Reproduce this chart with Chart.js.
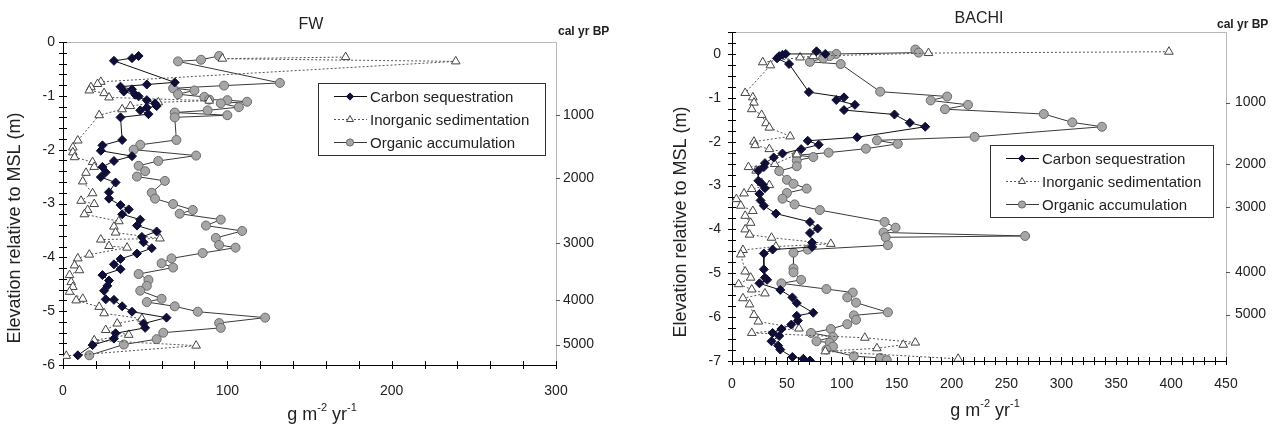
<!DOCTYPE html>
<html>
<head>
<meta charset="utf-8">
<script src="https://cdn.jsdelivr.net/npm/chart.js@4.4.1/dist/chart.umd.min.js"></script>
<style>
  html, body { margin: 0; padding: 0; background: #fff; }
  #wrap { position: relative; width: 1275px; height: 425px; overflow: hidden; }
  .panel { position: absolute; top: 0; height: 425px; }
</style>
</head>
<body>
<div id="wrap">
  <div class="panel" style="left:0;width:640px"><canvas id="fwChart"></canvas></div>
  <div class="panel" style="left:640px;width:635px"><canvas id="bachiChart"></canvas></div>
</div>
<script>
/* Accretion profiles, FW and BACHI cores
   points are [rate g m-2 yr-1, elevation m] in depth order */

const fwCarbon = [
  [46,-0.26],[42,-0.30],[31,-0.35],[68,-0.75],[51,-0.79],[35,-0.83],[42,-0.88],[37,-0.92],
  [44,-0.98],[46,-1.01],[51,-1.08],[56,-1.14],[57,-1.19],[51,-1.22],[47,-1.27],[52,-1.34],
  [35,-1.40],[36,-1.82],[24,-1.92],[23,-2.02],[42,-2.12],[31,-2.21],[24,-2.32],[26,-2.42],
  [23,-2.51],[32,-2.61],[28,-2.79],[28,-2.91],[35,-3.03],[40,-3.11],[36,-3.20],[47,-3.30],
  [45,-3.41],[57,-3.52],[48,-3.62],[49,-3.72],[54,-3.83],[45,-3.93],[35,-4.03],[31,-4.13],
  [35,-4.22],[24,-4.33],[28,-4.43],[27,-4.53],[25,-4.62],[26,-4.78],[31,-4.79],[36,-4.91],
  [42,-5.01],[63,-5.12],[49,-5.23],[50,-5.31],[32,-5.41],[31,-5.51],[18,-5.63],[9,-5.82]
];
const fwInorganic = [
  [172,-0.28],[97,-0.31],[239,-0.36],[23,-0.74],[21,-0.78],[17,-0.84],[16,-0.90],[25,-0.95],
  [28,-1.03],[89,-1.09],[58,-1.12],[41,-1.19],[36,-1.25],[22,-1.36],[9,-1.83],[6,-1.96],
  [6,-2.05],[7,-2.14],[18,-2.23],[19,-2.32],[14,-2.43],[12,-2.59],[18,-2.81],[11,-2.95],
  [19,-3.01],[15,-3.12],[13,-3.20],[34,-3.33],[31,-3.43],[32,-3.54],[59,-3.65],[23,-3.67],
  [28,-3.79],[39,-3.82],[16,-3.95],[9,-4.02],[7,-4.15],[10,-4.24],[4,-4.33],[5,-4.46],
  [6,-4.55],[4,-4.64],[12,-4.77],[8,-4.80],[22,-4.92],[25,-5.04],[48,-5.14],[33,-5.23],
  [26,-5.35],[40,-5.44],[19,-5.54],[81,-5.64],[2,-5.83]
];
const fwOrganic = [
  [95,-0.26],[84,-0.33],[70,-0.36],[132,-0.76],[98,-0.81],[67,-0.86],[80,-0.90],[70,-0.97],
  [86,-1.02],[89,-1.07],[100,-1.08],[112,-1.11],[96,-1.14],[107,-1.21],[88,-1.27],[68,-1.31],
  [100,-1.36],[68,-1.40],[69,-1.82],[47,-1.91],[43,-2.00],[81,-2.11],[58,-2.21],[46,-2.30],
  [50,-2.40],[45,-2.50],[62,-2.58],[54,-2.80],[56,-2.91],[67,-3.01],[79,-3.12],[71,-3.19],
  [96,-3.30],[87,-3.41],[109,-3.51],[93,-3.64],[95,-3.77],[105,-3.82],[85,-3.92],[66,-4.02],
  [60,-4.11],[67,-4.19],[46,-4.31],[52,-4.42],[51,-4.53],[47,-4.62],[60,-4.77],[51,-4.83],
  [68,-4.91],[82,-5.01],[123,-5.12],[95,-5.22],[96,-5.31],[61,-5.40],[57,-5.52],[37,-5.62],
  [16,-5.82]
];

const bachiCarbon = [
  [77,0.06],[85,0.00],[49,0.00],[46,-0.02],[43,-0.05],[41,-0.10],[52,-0.23],[70,-0.87],
  [102,-0.99],[95,-1.05],[112,-1.16],[102,-1.28],[148,-1.38],[162,-1.57],[176,-1.66],[114,-1.90],
  [69,-1.98],[79,-2.07],[63,-2.17],[46,-2.27],[38,-2.36],[30,-2.49],[29,-2.58],[24,-2.66],
  [24,-2.89],[28,-2.98],[30,-3.06],[25,-3.19],[26,-3.34],[29,-3.46],[40,-3.64],[71,-3.83],
  [78,-3.98],[71,-4.08],[73,-4.30],[73,-4.40],[37,-4.46],[29,-4.55],[29,-4.91],[30,-5.10],
  [32,-5.15],[25,-5.23],[44,-5.38],[55,-5.55],[59,-5.68],[74,-5.90],[59,-5.97],[60,-6.08],
  [54,-6.17],[45,-6.27],[37,-6.36],[43,-6.43],[36,-6.55],[42,-6.65],[44,-6.74],[55,-6.91],
  [65,-6.95],[71,-6.99]
];
const bachiInorganic = [
  [398,0.05],[179,0.02],[74,-0.05],[62,-0.08],[28,-0.19],[35,-0.26],[12,-0.89],[19,-0.99],
  [20,-1.11],[18,-1.26],[27,-1.39],[31,-1.58],[34,-1.68],[53,-1.88],[20,-2.00],[21,-2.08],
  [34,-2.17],[59,-2.29],[39,-2.51],[15,-2.58],[22,-2.66],[27,-2.94],[34,-2.99],[18,-3.08],
  [11,-3.18],[4,-3.31],[8,-3.46],[19,-3.58],[12,-3.69],[17,-3.85],[12,-4.00],[16,-4.12],
  [36,-4.19],[90,-4.33],[40,-4.39],[10,-4.47],[8,-4.57],[12,-4.96],[17,-5.10],[6,-5.25],
  [18,-5.37],[30,-5.46],[10,-5.57],[16,-5.71],[20,-5.95],[24,-6.10],[61,-6.26],[18,-6.36],
  [121,-6.47],[167,-6.58],[156,-6.63],[132,-6.71],[85,-6.78],[206,-6.95]
];
const bachiOrganic = [
  [167,0.10],[170,0.03],[95,0.00],[89,-0.05],[83,-0.10],[71,-0.18],[99,-0.23],[135,-0.86],
  [196,-0.97],[181,-1.06],[215,-1.16],[194,-1.26],[284,-1.37],[310,-1.56],[337,-1.66],[221,-1.89],
  [132,-1.97],[151,-2.05],[122,-2.16],[88,-2.25],[59,-2.31],[74,-2.35],[59,-2.43],[59,-2.56],
  [43,-2.67],[50,-2.87],[56,-2.96],[68,-3.07],[50,-3.17],[46,-3.30],[57,-3.43],[80,-3.56],
  [139,-3.83],[149,-3.96],[138,-4.07],[267,-4.15],[140,-4.18],[142,-4.36],[69,-4.46],[56,-4.53],
  [56,-4.89],[56,-4.98],[63,-5.15],[45,-5.23],[86,-5.36],[110,-5.44],[105,-5.55],[113,-5.67],
  [142,-5.89],[111,-5.96],[113,-6.06],[105,-6.16],[90,-6.27],[72,-6.36],[92,-6.45],[77,-6.55],
  [89,-6.58],[92,-6.67],[86,-6.74],[111,-6.89],[135,-6.93],[141,-6.98]
];

// tick labels
const fwXLabels = [0, 100, 200, 300];
const fwYLabels = [0, -1, -2, -3, -4, -5, -6];
const bachiXLabels = [0, 50, 100, 150, 200, 250, 300, 350, 400, 450];
const bachiYLabels = [0, -1, -2, -3, -4, -5, -6, -7];

// cal yr BP markers on the right: elevation where each age falls
const ageLabels = ['1000', '2000', '3000', '4000', '5000'];
const fwAgeDepth = [-1.35, -2.53, -3.74, -4.79, -5.62];
const bachiAgeDepth = [-1.11, -2.51, -3.50, -4.98, -5.94];

const seriesNames = ['Carbon sequestration', 'Inorganic sedimentation', 'Organic accumulation'];

// ─── styles ──────────────────────────────────────────────
const FONT = '"Liberation Sans", Arial, sans-serif';
const INK = '#222';

const seriesStyle = [
  { borderColor: '#111', borderWidth: 1, borderDash: [], pointStyle: 'rectRot', pointRadius: 4.5,
    pointBackgroundColor: '#0e0e36', pointBorderColor: '#0e0e36', pointBorderWidth: 1 },
  { borderColor: '#555', borderWidth: 1, borderDash: [2, 2], pointStyle: 'triangle', pointRadius: 5,
    pointBackgroundColor: '#fff', pointBorderColor: '#444', pointBorderWidth: 1 },
  { borderColor: '#3a3a3a', borderWidth: 1, borderDash: [], pointStyle: 'circle', pointRadius: 4.5,
    pointBackgroundColor: '#a6a6a6', pointBorderColor: '#6a6a6a', pointBorderWidth: 1 },
];

function stepTicks(min, max, step) {
  const out = [];
  const n = Math.round((max - min) / step);
  for (let i = 0; i <= n; i++) out.push({ value: +(min + i * step).toFixed(4) });
  return out;
}
const isLabel = (list, v) => list.some(l => Math.abs(l - v) < 1e-6);

function legendMarker(ctx, s, x, y, r) {
  ctx.fillStyle = s.pointBackgroundColor;
  ctx.strokeStyle = s.pointBorderColor;
  ctx.lineWidth = 1;
  ctx.setLineDash([]);
  ctx.beginPath();
  if (s.pointStyle === 'rectRot') {
    ctx.moveTo(x, y - r); ctx.lineTo(x + r, y); ctx.lineTo(x, y + r); ctx.lineTo(x - r, y);
    ctx.closePath();
  } else if (s.pointStyle === 'triangle') {
    ctx.moveTo(x, y - r); ctx.lineTo(x + r * 0.87, y + r * 0.5); ctx.lineTo(x - r * 0.87, y + r * 0.5);
    ctx.closePath();
  } else {
    ctx.arc(x, y, r, 0, Math.PI * 2);
  }
  ctx.fill();
  ctx.stroke();
}

// frame, cross ticks, legend and the free text of each panel
const panelDecor = {
  id: 'panelDecor',
  beforeDatasetsDraw(chart, args, o) {
    const { ctx, chartArea: a, scales } = chart;
    ctx.save();
    ctx.lineWidth = 1;
    ctx.strokeStyle = '#b8b8b8';
    ctx.beginPath();
    ctx.moveTo(a.left, a.top + 0.5);
    ctx.lineTo(a.right + 0.5, a.top + 0.5);
    ctx.lineTo(a.right + 0.5, a.bottom);
    ctx.stroke();

    ctx.strokeStyle = '#000';
    ctx.beginPath();
    scales.x.ticks.forEach(t => {
      const px = Math.round(scales.x.getPixelForValue(t.value)) + 0.5;
      ctx.moveTo(px, a.bottom - o.tick); ctx.lineTo(px, a.bottom + o.tick);
    });
    scales.y.ticks.forEach(t => {
      const py = Math.round(scales.y.getPixelForValue(t.value)) + 0.5;
      ctx.moveTo(a.left - o.tick, py); ctx.lineTo(a.left + o.tick, py);
    });
    ctx.stroke();

    ctx.strokeStyle = '#555';
    ctx.beginPath();
    scales.y2.ticks.forEach(t => {
      const py = Math.round(scales.y2.getPixelForValue(t.value)) + 0.5;
      ctx.moveTo(a.right, py); ctx.lineTo(a.right + 4, py);
    });
    ctx.stroke();
    ctx.restore();
  },
  afterDatasetsDraw(chart, args, o) {
    const { ctx } = chart;
    const L = o.legend;
    ctx.save();
    ctx.fillStyle = '#fff';
    ctx.fillRect(L.x, L.y, L.w, L.h);
    ctx.strokeStyle = '#333';
    ctx.lineWidth = 1;
    ctx.strokeRect(L.x + 0.5, L.y + 0.5, L.w, L.h);
    ctx.font = `15px ${FONT}`;
    ctx.textBaseline = 'middle';
    seriesNames.forEach((name, i) => {
      const s = seriesStyle[i];
      const ry = L.y + 13.5 + i * 23;
      ctx.strokeStyle = s.borderColor;
      ctx.setLineDash(s.borderDash);
      ctx.beginPath();
      ctx.moveTo(L.x + 16, ry); ctx.lineTo(L.x + 49, ry);
      ctx.stroke();
      legendMarker(ctx, s, L.x + 32, ry, s.pointRadius * 0.8);
      ctx.fillStyle = INK;
      ctx.fillText(name, L.x + 52, ry + 1);
    });
    ctx.restore();
  },
  afterDraw(chart, args, o) {
    const { ctx } = chart;
    ctx.save();
    ctx.fillStyle = INK;
    ctx.textBaseline = 'middle';

    ctx.font = `16px ${FONT}`;
    ctx.textAlign = 'center';
    ctx.fillText(o.title, o.titleX, o.titleY);

    ctx.font = `bold 12px ${FONT}`;
    ctx.textAlign = 'left';
    ctx.fillText('cal yr BP', o.calX, o.calY);

    // g m-2 yr-1 with superscripts
    const big = `18px ${FONT}`, sup = `11px ${FONT}`;
    const parts = [['g m', big, 0], ['-2', sup, -7], [' yr', big, 0], ['-1', sup, -7]];
    let w = 0;
    parts.forEach(p => { ctx.font = p[1]; w += ctx.measureText(p[0]).width; });
    let x = o.xTitleX - w / 2;
    parts.forEach(p => {
      ctx.font = p[1];
      ctx.fillText(p[0], x, o.xTitleY + p[2]);
      x += ctx.measureText(p[0]).width;
    });

    ctx.translate(o.yTitleX, o.yTitleY);
    ctx.rotate(-Math.PI / 2);
    ctx.font = big;
    ctx.textAlign = 'center';
    ctx.fillText('Elevation relative to MSL (m)', 0, 0);
    ctx.restore();
  },
};

function renderPanel(id, p) {
  const el = document.getElementById(id);
  if (!el) return;
  const tickFont = { family: FONT, size: 14 };

  new Chart(el, {
    type: 'scatter',
    data: {
      datasets: p.series.map((pts, i) => ({
        ...seriesStyle[i],
        label: seriesNames[i],
        data: pts.map(([x, y]) => ({ x, y })),
        showLine: true,
        tension: 0,
        order: i,
      })),
    },
    options: {
      responsive: true,
      maintainAspectRatio: false,
      animation: false,
      events: [],
      layout: { padding: { top: p.top, left: 0, right: 0, bottom: 0 } },
      plugins: {
        legend: { display: false },
        tooltip: { enabled: false },
        panelDecor: p.deco,
      },
      scales: {
        x: {
          type: 'linear', min: 0, max: p.xMax,
          grid: { display: false, drawTicks: false },
          border: { display: true, color: '#000', width: 1 },
          afterBuildTicks: ax => { ax.ticks = stepTicks(0, p.xMax, p.xStep); },
          afterFit: ax => { ax.height = p.xAxisH; },
          ticks: {
            autoSkip: false, maxRotation: 0, padding: p.xPad, color: INK, font: tickFont,
            callback: v => isLabel(p.xLabels, v) ? String(v) : '',
          },
        },
        y: {
          type: 'linear', min: p.yMin, max: p.yMax,
          grid: { display: false, drawTicks: false },
          border: { display: true, color: '#000', width: 1 },
          afterBuildTicks: ax => { ax.ticks = stepTicks(p.yMin, p.yMax, p.yStep); },
          afterFit: ax => { ax.width = p.yAxisW; },
          ticks: {
            autoSkip: false, padding: p.yPad, color: INK, font: tickFont,
            callback: v => isLabel(p.yLabels, v) ? String(Math.round(v)) : '',
          },
        },
        y2: {
          type: 'linear', position: 'right', min: p.yMin, max: p.yMax,
          grid: { display: false, drawTicks: false },
          border: { display: false },
          afterBuildTicks: ax => { ax.ticks = p.ageDepth.map(v => ({ value: v })); },
          afterFit: ax => { ax.width = p.y2AxisW; },
          ticks: {
            autoSkip: false, padding: p.y2Pad, color: INK, font: tickFont,
            callback: (v, i) => ageLabels[i],
          },
        },
      },
    },
    plugins: [panelDecor],
  });
}

document.addEventListener('DOMContentLoaded', () => {
  renderPanel('fwChart', {
    series: [fwCarbon, fwInorganic, fwOrganic],
    xMax: 300, xStep: 20, xLabels: fwXLabels,
    yMin: -6, yMax: 0, yStep: 0.2, yLabels: fwYLabels,
    ageDepth: fwAgeDepth,
    top: 42, xAxisH: 60, yAxisW: 63, y2AxisW: 84,
    xPad: 18, yPad: 8, y2Pad: 7,
    deco: {
      tick: 4, title: 'FW', titleX: 311, titleY: 25, calX: 558, calY: 32,
      xTitleX: 322, xTitleY: 415, yTitleX: 15, yTitleY: 228,
      legend: { x: 318, y: 83, w: 227, h: 72 },
    },
  });
  renderPanel('bachiChart', {
    series: [bachiCarbon, bachiInorganic, bachiOrganic],
    xMax: 450, xStep: 10, xLabels: bachiXLabels,
    yMin: -7, yMax: 0.5, yStep: 0.25, yLabels: bachiYLabels,
    ageDepth: bachiAgeDepth,
    top: 32, xAxisH: 64, yAxisW: 92, y2AxisW: 49,
    xPad: 15, yPad: 11, y2Pad: 9,
    deco: {
      tick: 4, title: 'BACHI', titleX: 339, titleY: 19, calX: 577, calY: 25,
      xTitleX: 345, xTitleY: 411, yTitleX: 41, yTitleY: 222,
      legend: { x: 350, y: 145, w: 223, h: 72 },
    },
  });
});
</script>
</body>
</html>
